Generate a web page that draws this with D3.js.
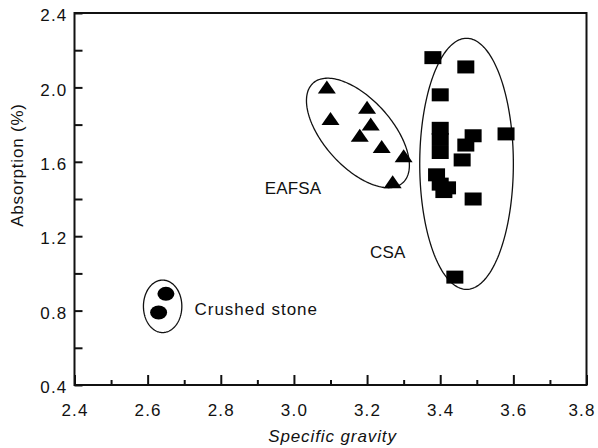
<!DOCTYPE html>
<html>
<head>
<meta charset="utf-8">
<script src="https://cdn.jsdelivr.net/npm/d3@7/dist/d3.min.js"></script>
<style>
  html, body { margin: 0; padding: 0; background: #fff; }
  svg { display: block; }
  text { font-family: "Liberation Sans", Arial, Helvetica, sans-serif; fill: #111; }
</style>
</head>
<body>
<svg id="chart" width="598" height="448"></svg>
<script>
// Specific gravity vs absorption for three aggregate types
const csaGravity     = [3.38, 3.47, 3.40, 3.40, 3.40, 3.40, 3.49, 3.47, 3.58, 3.46, 3.39, 3.40, 3.41, 3.42, 3.49, 3.44];
const csaAbsorption  = [2.16, 2.11, 1.96, 1.78, 1.72, 1.65, 1.74, 1.69, 1.75, 1.61, 1.53, 1.48, 1.44, 1.46, 1.40, 0.98];

const eafsaGravity    = [3.09, 3.20, 3.10, 3.21, 3.18, 3.24, 3.30, 3.27];
const eafsaAbsorption = [2.00, 1.89, 1.83, 1.80, 1.74, 1.68, 1.63, 1.49];

const stoneGravity    = [2.65, 2.63];
const stoneAbsorption = [0.89, 0.79];

const xTicks = [2.4, 2.6, 2.8, 3.0, 3.2, 3.4, 3.6, 3.8];
const yTicks = [0.4, 0.8, 1.2, 1.6, 2.0, 2.4];

// Group envelopes: centre and two semi-axis vectors, in data units
const groupNames   = ["Crushed stone", "EAFSA", "CSA"];
const groupCentre  = [[2.641, 0.823], [3.175, 1.755], [3.472, 1.589]];
const groupAxisA   = [[0.0525, 0], [0.1226, -0.268], [0.128, 0]];
const groupAxisB   = [[0, 0.141], [-0.0691, -0.122], [0, 0.675]];
const groupLabelAt = [[2.728, 0.775], [2.92, 1.425], [3.208, 1.083]];

const svg = d3.select("#chart");
const mLeft = 74.5, mRight = 586.5, mTop = 13, mBottom = 385;

const x = d3.scaleLinear().domain([2.4, 3.8]).range([mLeft, mRight]);
const y = d3.scaleLinear().domain([0.4, 2.4]).range([mBottom, mTop]);

// Axes: ticks point inward
const xMinor = d3.range(2.5, 3.8, 0.2).map(v => +v.toFixed(1));
svg.append("g")
  .attr("transform", `translate(0,${mBottom})`)
  .call(d3.axisBottom(x).tickValues(xTicks).tickSize(-10).tickPadding(19)
        .tickFormat(d3.format(".1f")))
  .call(g => g.selectAll(".tick text").attr("font-size", 17).attr("letter-spacing", 1.2))
  .call(g => g.selectAll(".tick:last-of-type text").attr("dx", -5))
  .call(g => g.select(".domain").remove());
svg.append("g")
  .attr("transform", `translate(0,${mBottom})`)
  .call(d3.axisBottom(x).tickValues(xMinor).tickSize(-5).tickFormat(""))
  .call(g => g.select(".domain").remove());

const yMinor = d3.range(0.6, 2.4, 0.4).map(v => +v.toFixed(1));
svg.append("g")
  .attr("transform", `translate(${mLeft},0)`)
  .call(d3.axisLeft(y).tickValues(yTicks).tickSize(-8).tickPadding(7)
        .tickFormat(d3.format(".1f")))
  .call(g => g.selectAll(".tick text").attr("font-size", 17).attr("letter-spacing", 1.2)
        .attr("dy", "0.45em"))
  .call(g => g.select(".domain").remove());
svg.append("g")
  .attr("transform", `translate(${mLeft},0)`)
  .call(d3.axisLeft(y).tickValues(yMinor).tickSize(-8).tickFormat(""))
  .call(g => g.select(".domain").remove());

svg.selectAll(".tick line").attr("stroke", "#111").attr("stroke-width", 2);

// Frame
svg.append("rect")
  .attr("x", mLeft).attr("y", mTop)
  .attr("width", mRight - mLeft).attr("height", mBottom - mTop)
  .attr("fill", "none").attr("stroke", "#111").attr("stroke-width", 2);

// Axis titles
svg.append("text")
  .attr("x", (mLeft + mRight) / 2 + 2).attr("y", 442)
  .attr("text-anchor", "middle").attr("font-size", 17).attr("font-style", "italic")
  .attr("letter-spacing", 0.9)
  .text("Specific gravity");
svg.append("text")
  .attr("transform", `translate(23,165) rotate(-90)`)
  .attr("text-anchor", "middle").attr("font-size", 17).attr("letter-spacing", 0.8)
  .text("Absorption (%)");

// Group envelopes
const ring = d3.range(0, 2 * Math.PI + 0.001, Math.PI / 90);
const envelope = d3.line();
groupNames.forEach((name, i) => {
  const c = groupCentre[i], a = groupAxisA[i], b = groupAxisB[i];
  const pts = ring.map(t => [
    x(c[0] + a[0] * Math.cos(t) + b[0] * Math.sin(t)),
    y(c[1] + a[1] * Math.cos(t) + b[1] * Math.sin(t))
  ]);
  svg.append("path").attr("d", envelope(pts))
    .attr("fill", "none").attr("stroke", "#111").attr("stroke-width", 1.3);
  svg.append("text")
    .attr("x", x(groupLabelAt[i][0])).attr("y", y(groupLabelAt[i][1]))
    .attr("font-size", 17).attr("letter-spacing", name.length > 5 ? 1.0 : 0.2)
    .text(name);
});

// CSA: squares
svg.append("g").selectAll("rect")
  .data(d3.zip(csaGravity, csaAbsorption))
  .join("rect")
  .attr("x", d => x(d[0]) - 8.5).attr("y", d => y(d[1]) - 6.5)
  .attr("width", 17).attr("height", 13).attr("fill", "#000");

// EAFSA: triangles
svg.append("g").selectAll("path")
  .data(d3.zip(eafsaGravity, eafsaAbsorption))
  .join("path")
  .attr("d", d => {
    const cx = x(d[0]), cy = y(d[1]);
    return `M${cx},${cy - 7}L${cx + 9},${cy + 6}L${cx - 9},${cy + 6}Z`;
  })
  .attr("fill", "#000");

// Crushed stone: filled ovals
svg.append("g").selectAll("ellipse")
  .data(d3.zip(stoneGravity, stoneAbsorption))
  .join("ellipse")
  .attr("cx", d => x(d[0])).attr("cy", d => y(d[1]))
  .attr("rx", 8.5).attr("ry", 7).attr("fill", "#000");
</script>
</body>
</html>
